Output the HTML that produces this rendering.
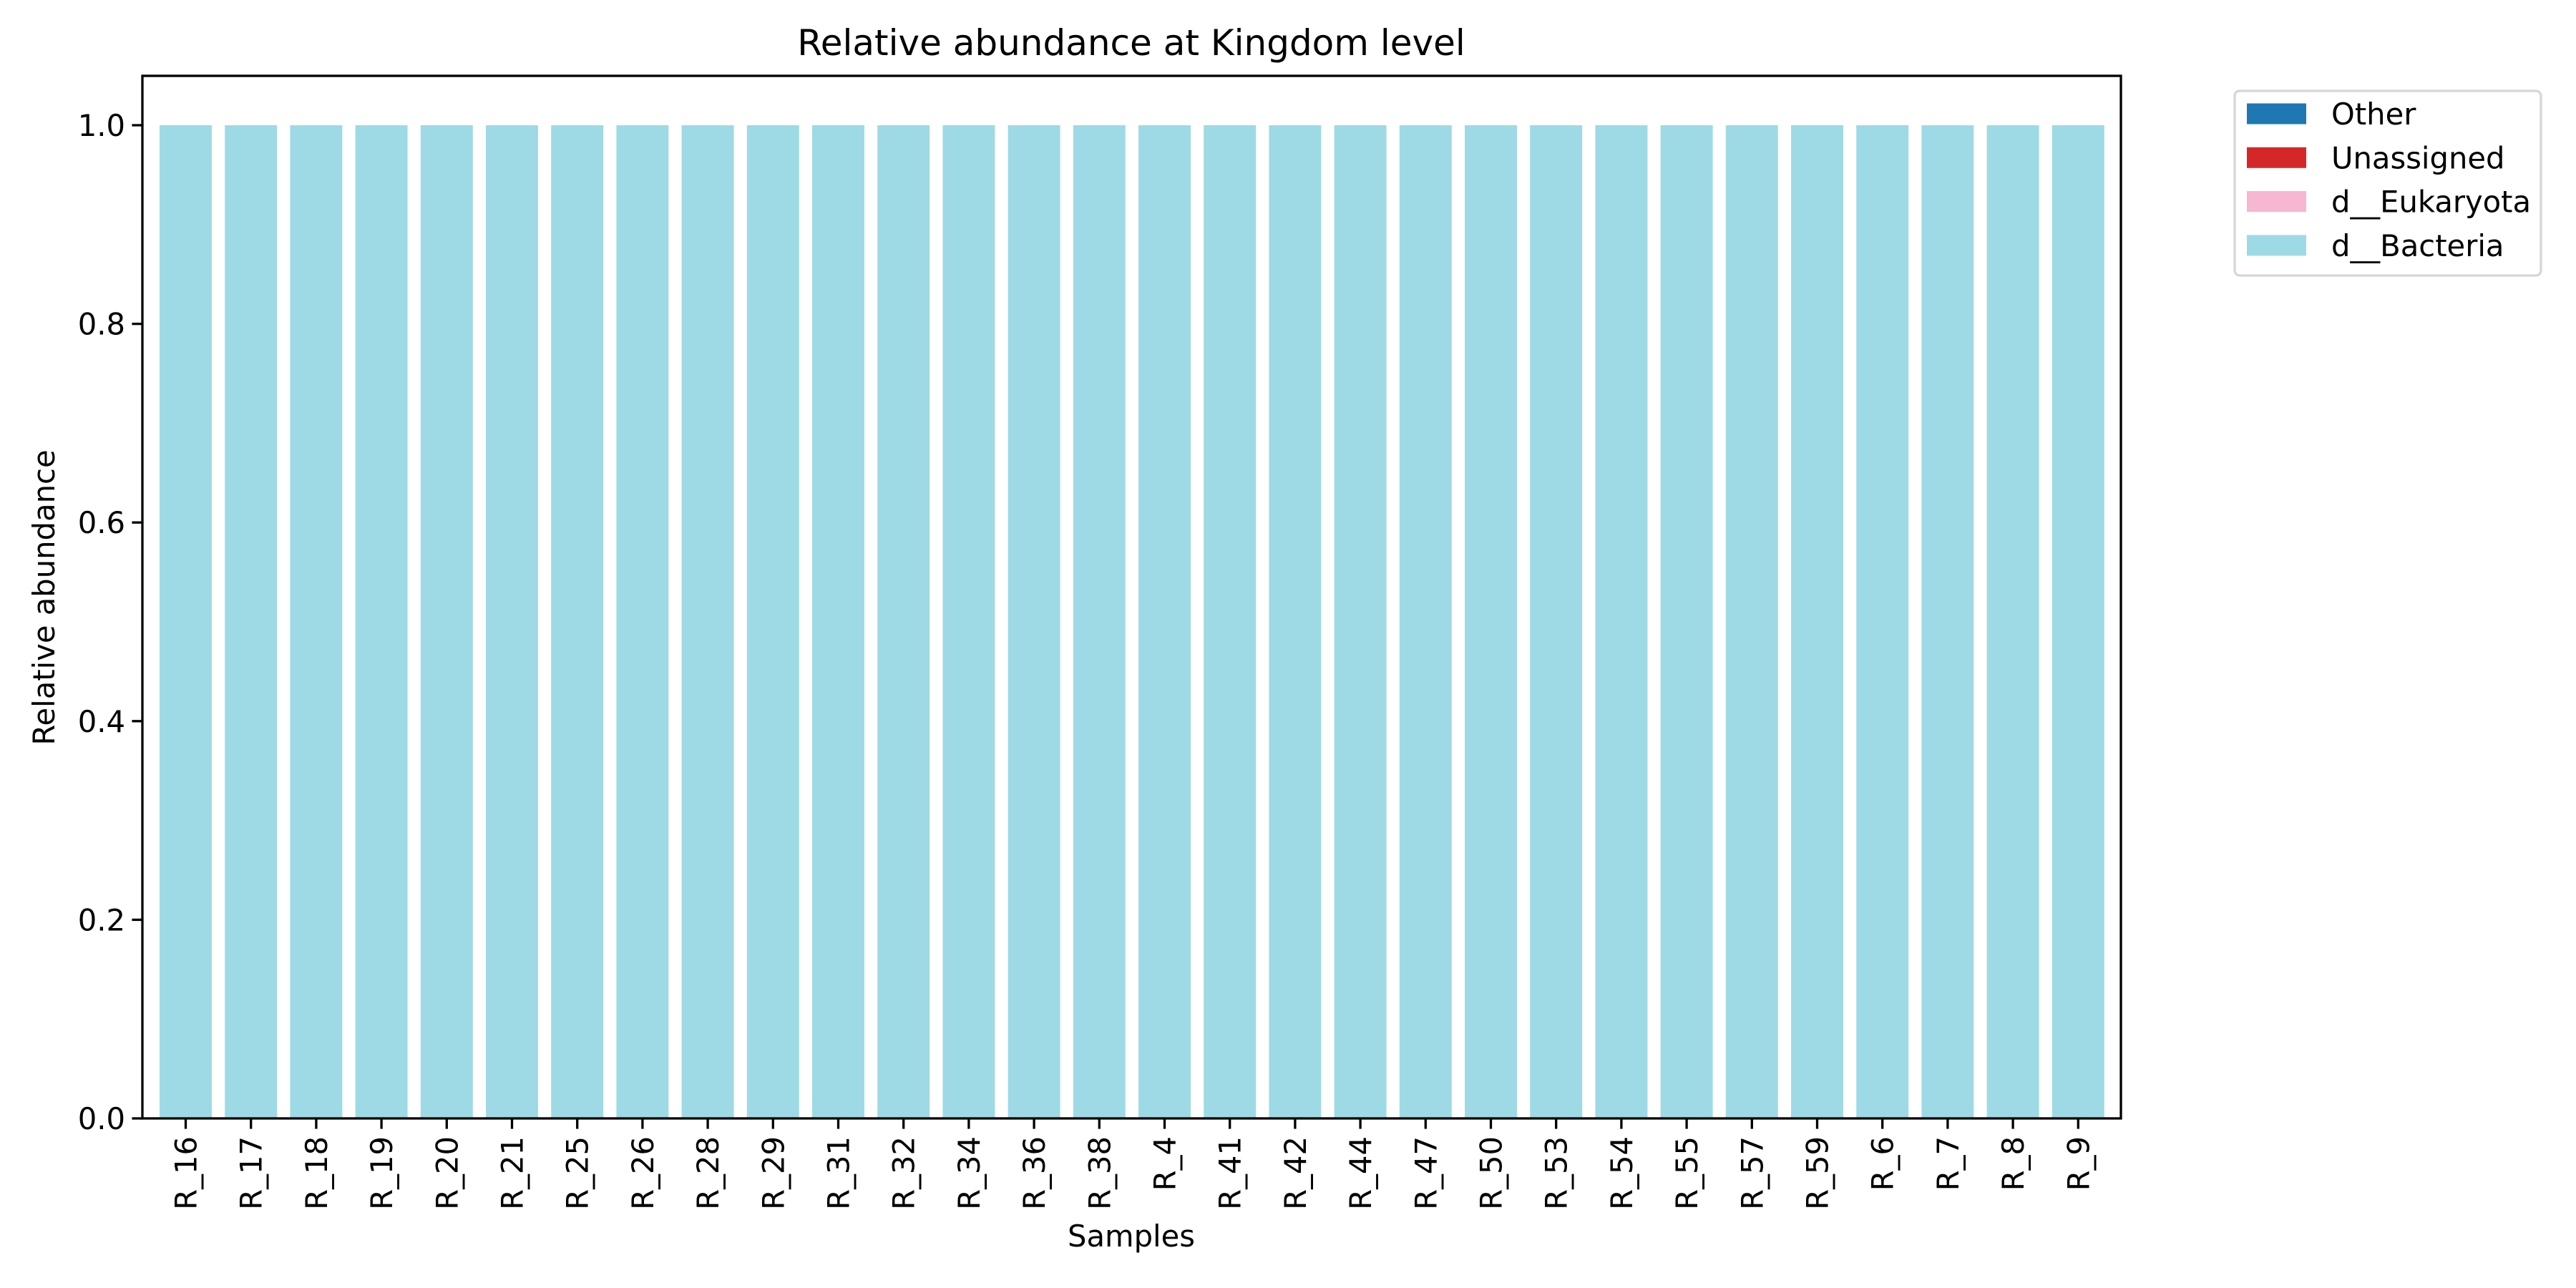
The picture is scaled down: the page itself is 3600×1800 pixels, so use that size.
<!DOCTYPE html>
<html><head><meta charset="utf-8"><style>
html,body{margin:0;padding:0;background:#fff}
svg{display:block;font-family:"DejaVu Sans","Liberation Sans",sans-serif}
</style></head><body>
<svg id="chart" width="3600" height="1800" viewBox="0 0 3600 1800">
<rect width="3600" height="1800" fill="#fff"/>
<text x="1581" y="77" font-size="50" text-anchor="middle">Relative abundance at Kingdom level</text>
<g id="bars"></g>
<g id="axes"></g>
<text x="0" y="0" font-size="41.7" text-anchor="middle" transform="translate(76,835) rotate(-90)">Relative abundance</text>
<text x="1581" y="1742" font-size="41.7" text-anchor="middle">Samples</text>
<g>
<rect x="3123" y="127" width="428" height="258" rx="7" fill="#fff" stroke="#d6d6d6" stroke-width="3.3"/>
<g id="legend-items"></g>
</g>
</svg>
<script>
const categories=["R_16","R_17","R_18","R_19","R_20","R_21","R_25","R_26","R_28","R_29","R_31","R_32","R_34","R_36","R_38","R_4","R_41","R_42","R_44","R_47","R_50","R_53","R_54","R_55","R_57","R_59","R_6","R_7","R_8","R_9"];
const seriesNames=["d__Bacteria","d__Eukaryota","Unassigned","Other"];
const seriesColors=["#9edae5","#f7b6d2","#d62728","#1f77b4"];
const bacteria=[1,1,1,1,1,1,1,1,1,1,1,1,1,1,1,1,1,1,1,1,1,1,1,1,1,1,1,1,1,1];
const eukaryota=[0,0,0,0,0,0,0,0,0,0,0,0,0,0,0,0,0,0,0,0,0,0,0,0,0,0,0,0,0,0];
const unassigned=[0,0,0,0,0,0,0,0,0,0,0,0,0,0,0,0,0,0,0,0,0,0,0,0,0,0,0,0,0,0];
const other=[0,0,0,0,0,0,0,0,0,0,0,0,0,0,0,0,0,0,0,0,0,0,0,0,0,0,0,0,0,0];
const yTicks=[0,0.2,0.4,0.6,0.8,1.0];
const yTickLabels=["0.0","0.2","0.4","0.6","0.8","1.0"];

const NS="http://www.w3.org/2000/svg";
const L=199,R=2964,T=106,B=1563;
const x0=259.5,step=91.2,bw=step*0.8;
function xs(i){return x0+step*i;}
function ys(v){return B-(B-175)*v;}
function mk(tag,attrs,parent){const e=document.createElementNS(NS,tag);for(const k in attrs)e.setAttribute(k,attrs[k]);parent.appendChild(e);return e;}

const bars=document.getElementById('bars');
const series=[bacteria,eukaryota,unassigned,other];
categories.forEach((c,i)=>{
  let base=0;
  series.forEach((s,k)=>{
    const v=s[i];
    if(v>0){
      const r=mk('rect',{x:xs(i)-bw/2,y:ys(base+v),width:bw,height:ys(base)-ys(base+v),fill:seriesColors[k]},bars);
      
      
    }
    base+=v;
  });
});

const ax=document.getElementById('axes');
const frame=mk('rect',{x:L,y:T,width:R-L,height:B-T,fill:'none',stroke:'#000','stroke-width':3.3},ax);


yTicks.forEach((v,i)=>{
  const t=mk('line',{x1:L-14.6,x2:L,y1:ys(v),y2:ys(v),stroke:'#000','stroke-width':3.3},ax);
  
  
  const tx=mk('text',{x:L-24,y:ys(v)+15,'font-size':41.7,'text-anchor':'end'},ax);
  tx.textContent=yTickLabels[i];
  
  
});
categories.forEach((c,i)=>{
  const t=mk('line',{x1:xs(i),x2:xs(i),y1:B,y2:B+14.6,stroke:'#000','stroke-width':3.3},ax);
  
  
  const tx=mk('text',{x:0,y:0,'font-size':41.7,'text-anchor':'end',transform:`translate(${xs(i)+15},${B+25}) rotate(-90)`},ax);
  tx.textContent=c;
  
  
});

const li=document.getElementById('legend-items');
const legOrder=[3,2,1,0];
legOrder.forEach((k,j)=>{
  const cy=159+61.3*j;
  const r=mk('rect',{x:3140,y:cy-14.5,width:83,height:29,fill:seriesColors[k]},li);
  
  
  const t=mk('text',{x:3258,y:cy+15,'font-size':41.7},li);
  t.textContent=seriesNames[k];
  
  
});
</script>
</body></html>
